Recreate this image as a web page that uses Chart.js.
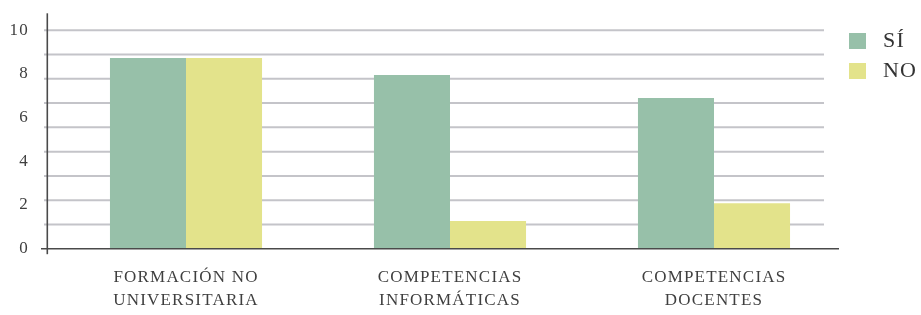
<!DOCTYPE html>
<html>
<head>
<meta charset="utf-8">
<script src="https://cdn.jsdelivr.net/npm/chart.js@4"></script>
<style>
  html, body { margin: 0; padding: 0; background: #ffffff; }
  #wrap { width: 921px; height: 315px; position: relative; }
</style>
</head>
<body>
<div id="wrap"><canvas id="c" width="921" height="315"></canvas></div>
<script>
// ---- data ----
const categories = [
  ['FORMACIÓN NO', 'UNIVERSITARIA'],
  ['COMPETENCIAS', 'INFORMÁTICAS'],
  ['COMPETENCIAS', 'DOCENTES']
];
const seriesNames = ['SÍ', 'NO'];
const siValues = [8.73, 7.95, 6.9];
const noValues = [8.73, 1.27, 2.08];
const yTickValues = [0, 2, 4, 6, 8, 10];
const gridDivisions = 9;

// ---- styles ----
const FONT = "'Liberation Serif', 'Times New Roman', serif";
const colors = ['#97c0a9', '#e3e38b'];
const textColor = '#3f3f3f';

function swatch(color) {
  const c = document.createElement('canvas');
  c.width = 17; c.height = 16;
  const g = c.getContext('2d');
  g.fillStyle = color;
  g.fillRect(0, 0, 17, 16);
  return c;
}
const swatches = colors.map(swatch);

const framePlugin = {
  id: 'frame',
  beforeDraw(chart) {
    try { chart.ctx.letterSpacing = '1.2px'; } catch (e) {}
  },
  afterDraw(chart) {
    try { chart.ctx.letterSpacing = '0px'; } catch (e) {}
  },
  beforeDatasetsDraw(chart) {
    const { ctx, chartArea, scales } = chart;
    const y = scales.y;
    const yMax = yTickValues[yTickValues.length - 1];
    ctx.save();
    ctx.strokeStyle = '#c4c4c9';
    ctx.lineWidth = 2;
    for (let i = 1; i <= gridDivisions; i++) {
      const py = y.getPixelForValue(i * yMax / gridDivisions);
      ctx.beginPath();
      ctx.moveTo(chartArea.left - 10, py);
      ctx.lineTo(chartArea.right - 22, py);
      ctx.stroke();
    }
    ctx.restore();
  },
  afterDatasetsDraw(chart) {
    const { ctx, chartArea } = chart;
    ctx.save();
    ctx.strokeStyle = '#4a4a4a';
    ctx.lineWidth = 1.6;
    const ax = chartArea.left - 6.7;
    ctx.beginPath();
    ctx.moveTo(ax, chartArea.top - 17);
    ctx.lineTo(ax, chartArea.bottom + 5.5);
    ctx.stroke();
    ctx.beginPath();
    ctx.moveTo(chartArea.left - 13, chartArea.bottom);
    ctx.lineTo(chartArea.right - 7, chartArea.bottom);
    ctx.stroke();
    ctx.restore();
  },
  afterLayout(chart) {
    const lg = chart.legend;
    if (!lg) return;
    lg.left = chart.chartArea.right - 11;
    lg.right = chart.width;
    lg.width = lg.right - lg.left;
    lg.top = 22;
  }
};

new Chart(document.getElementById('c'), {
  type: 'bar',
  data: {
    labels: categories,
    datasets: [
      { label: seriesNames[0], data: siValues, backgroundColor: colors[0], borderWidth: 0 },
      { label: seriesNames[1], data: noValues, backgroundColor: colors[1], borderWidth: 0 }
    ]
  },
  options: {
    responsive: false,
    animation: false,
    devicePixelRatio: 1,
    layout: { padding: { top: 30.3, left: 0, right: 0, bottom: 0 } },
    datasets: { bar: { categoryPercentage: 0.576, barPercentage: 1.0 } },
    scales: {
      x: {
        grid: { display: false, drawTicks: false },
        border: { display: false },
        ticks: {
          color: textColor,
          font: { family: FONT, size: 17, lineHeight: 1.33 },
          padding: 17.5,
          maxRotation: 0, autoSkip: false
        },
        afterFit(scale) { scale.height = 66.3; }
      },
      y: {
        min: 0, max: 10,
        afterBuildTicks(scale) { scale.ticks = yTickValues.map(v => ({ value: v })); },
        grid: { display: false, drawTicks: false },
        border: { display: false },
        ticks: {
          color: textColor,
          font: { family: FONT, size: 17 },
          padding: 25
        },
        afterFit(scale) {
          scale.width = 54;
          scale.paddingTop = 0;
          scale.paddingBottom = 0;
        }
      }
    },
    plugins: {
      tooltip: { enabled: false },
      legend: {
        position: 'right',
        align: 'start',
        maxWidth: 75,
        labels: {
          usePointStyle: true,
          pointStyleWidth: 29,
          padding: 8,
          color: '#333333',
          font: { family: FONT, size: 22 },
          generateLabels(chart) {
            const items = Chart.defaults.plugins.legend.labels.generateLabels(chart);
            items.forEach((it, i) => { it.pointStyle = swatches[i]; it.rotation = 0; });
            return items;
          }
        }
      }
    }
  },
  plugins: [framePlugin]
});
</script>
</body>
</html>
